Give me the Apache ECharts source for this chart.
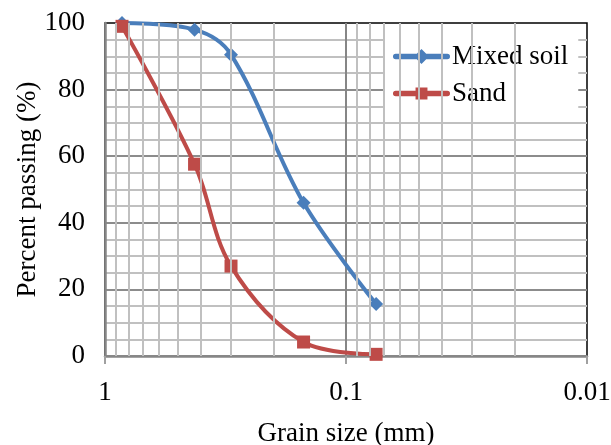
<!DOCTYPE html>
<html><head><meta charset="utf-8">
<script src="https://cdn.jsdelivr.net/npm/echarts@6/dist/echarts.min.js"></script>
<style>html,body{margin:0;padding:0;background:#fff}#c{width:611px;height:445px}</style>
</head><body><div id="c"></div>
<script>
var grainSizes = [0.85, 0.425, 0.3, 0.15, 0.075];
var mixedSoil = [100, 98, 90.5, 46, 15.6];
var sand = [99, 57.6, 27, 4.2, 0.5];
var minorGridX = [0.9,0.8,0.7,0.6,0.5,0.4,0.3,0.2,0.09,0.08,0.07,0.06,0.05,0.04,0.03,0.02];
var yTicks = [0, 20, 40, 60, 80, 100];

var font = '"Liberation Serif", "Times New Roman", serif';
function pairs(xs, ys){ return xs.map(function(x,i){ return [x, ys[i]]; }); }

var blue = '#4a7ebb', red = '#be4b48';
var iconDiamond = 'path://M2.5 4.8 L54.5 4.8 A2.7 2.7 0 0 1 54.5 10.2 L2.5 10.2 A2.7 2.7 0 0 1 2.5 4.8 Z M28.5 0 L36 7.5 L28.5 15 L21 7.5 Z';
var iconSquare = 'path://M2.5 4.8 L54.5 4.8 A2.7 2.7 0 0 1 54.5 10.2 L2.5 10.2 A2.7 2.7 0 0 1 2.5 4.8 Z M22.5 1.5 L34.5 1.5 L34.5 13.5 L22.5 13.5 Z';

var chart = echarts.init(document.getElementById('c'), null, {renderer:'canvas'});
chart.setOption({
  animation: false,
  backgroundColor: '#fff',
  grid: {left:105, right:24, top:23, bottom:89, outerBoundsMode:'none', containLabel:false,
    show:true, borderColor:'#000', borderWidth:1.5, backgroundColor:'#fff'},
  legend: {
    data: [{name:'Mixed soil', icon: iconDiamond, itemStyle:{color:blue}}, {name:'Sand', icon: iconSquare, itemStyle:{color:red}}],
    orient: 'vertical', left: 383, top: 37,
    backgroundColor: '#fff', padding: [6, 10, 6, 10],
    itemWidth: 57, itemHeight: 15, itemGap: 10,
    textStyle: {fontFamily: font, fontSize: 27, color: '#000', padding:[0,0,0,-3]}
  },
  xAxis: {
    type: 'log', logBase: 10, min: 0.01, max: 1, inverse: true,
    name: 'Grain size (mm)', nameLocation: 'middle', nameGap: 64, nameMoveOverlap: false,
    nameTextStyle: {fontFamily: font, fontSize: 27, color: '#000'},
    axisLine: {show:true, lineStyle:{color:'#868686', width:2.5}},
    axisTick: {show:true, length:8, lineStyle:{color:'#a0a0a0', width:2}},
    axisLabel: {fontFamily: font, fontSize: 27, color:'#000', margin: 23,
      formatter: function(v){ return String(+v.toPrecision(3)); }},
    splitLine: {show:true, showMinLine:false, showMaxLine:false, lineStyle:{color:'#868686', width:2}},
    minorTick: {show:false}
  },
  yAxis: {
    type: 'value', min: 0, max: 100, interval: 20,
    name: 'Percent passing (%)', nameLocation: 'middle', nameGap: 64, nameMoveOverlap: false,
    nameTextStyle: {fontFamily: font, fontSize: 27, color: '#000'},
    axisLine: {show:true, lineStyle:{color:'#868686', width:2.5}},
    axisTick: {show:false},
    axisLabel: {fontFamily: font, fontSize: 27, color:'#000', margin: 20},
    splitLine: {show:true, showMaxLine:false, lineStyle:{color:'#8c8c8c', width:2}},
    minorTick: {show:false, splitNumber:4},
    minorSplitLine: {show:true, lineStyle:{color:'#c0c0c0', width:2}}
  },
  series: [
    {
      name: 'grid', type: 'line', data: [], z: 1, silent: true,
      markLine: {
        silent: true, symbol: ['none','none'], label:{show:false},
        lineStyle: {color:'#c0c0c0', width:2, type:'solid'},
        data: minorGridX.map(function(v){ return {xAxis: v}; })
      }
    },
    {
      name: 'Mixed soil', type: 'line', smooth: 0.35, z: 4,
      data: pairs(grainSizes, mixedSoil),
      symbol: 'diamond', symbolSize: 14,
      lineStyle: {color:blue, width:4},
      itemStyle: {color:blue}
    },
    {
      name: 'Sand', type: 'line', smooth: 0.35, z: 4,
      data: pairs(grainSizes, sand),
      symbol: 'rect', symbolSize: 13,
      lineStyle: {color:red, width:4},
      itemStyle: {color:red}
    }
  ]
});
</script></body></html>
